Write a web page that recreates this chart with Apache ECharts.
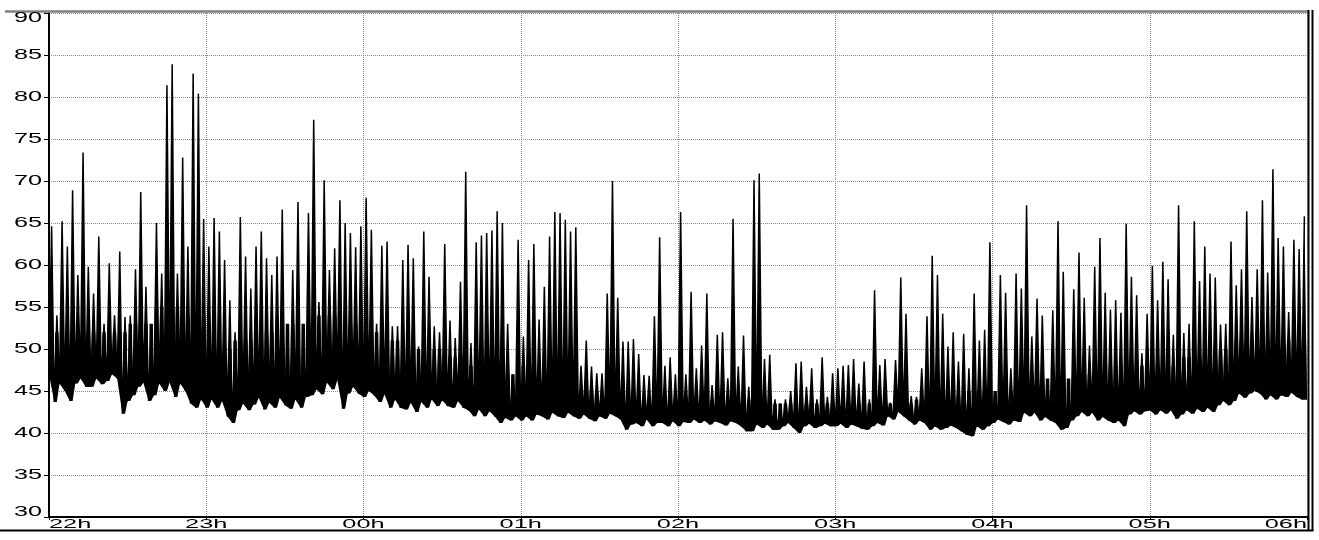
<!DOCTYPE html>
<html>
<head>
<meta charset="utf-8">
<script src="https://cdn.jsdelivr.net/npm/echarts@6/dist/echarts.min.js"></script>
<style>
html,body{margin:0;padding:0;background:#fff;}
#c{width:1319px;height:540px;}
</style>
</head>
<body>
<div id="c"></div>
<script>
// Tick labels
const xTickLabels = ['22h','23h','00h','01h','02h','03h','04h','05h','06h'];
const yTickValues = [30,35,40,45,50,55,60,65,70,75,80,85,90];

// Two-minute bins, 30 per hour: upper envelope (peaks) and lower envelope (troughs)
const hi22 = [64.6,54,65.2,62.2,68.9,58.8,73.4,59.8,56.6,63.4,53,60.2,54,61.6,53.8,54,59.5,68.7,57.4,52.7,65,59,81.4,83.9,59,72.8,62.2,82.8,80.4,65.5];
const lo22 = [47,43.7,45.9,45,43.8,45.9,46.5,45.5,45.5,46.5,45.8,46.2,47,46.5,42.3,43.8,44.5,45.5,46,43.8,44.5,45.9,45,46,44.3,45.9,45,43.5,43,44];

const hi23 = [62.2,65.6,64,60.6,55.8,52,65.7,61,57.2,62.2,64,60.8,58.8,61,66.6,52,59.4,67.5,51,66.2,77.3,55.6,70.1,59.4,62,67.7,65,63.8,62.1,64.6];
const lo23 = [43,44,43,43.8,42,41.2,42.7,43.5,42.7,43.4,44.2,42.8,43.6,43,44.2,43.3,42.9,44,43,44.3,44.5,45.2,44.6,46,45.2,46.3,42.9,44.7,45.5,44.7];

const hi00 = [68,64.2,53,62.3,62.8,52.7,52.7,60.6,62.4,60.8,50.3,64,58.6,52.7,52,62.5,53.4,51.3,58,71.1,50.7,62.7,63.5,63.8,64.1,66.4,65,53,47,63];
const lo00 = [44.3,45,44.5,43.7,44.6,43,44,43,42.8,43.6,42.5,43.7,43,44,43.2,43.9,43.2,43,43.8,43,42.7,42,42.8,42,42.6,42,41.2,41.8,41.5,42];

const hi01 = [51.5,60.6,62.5,53.5,57.4,63.4,66.3,66.2,65.4,64,64.5,48,51,47.9,47.1,47.1,56.6,70,56.1,50.9,50.9,51.2,49.4,46.9,46.8,53.9,63.3,48,49,47];
const lo01 = [41.5,42,41.5,42.2,42,41.6,42.4,42,41.8,42.4,42,41.7,42.2,41.7,41.4,42,41.7,42.3,42,41.6,40.4,41,41.2,40.8,41.6,40.8,41.2,41.2,40.8,41.4];

const hi02 = [66.3,47,56.8,47.7,50.4,56.6,45.7,51.7,52,46.5,65.5,47.9,51.6,45.5,70.1,70.9,48.8,49.3,44,43.5,44,45,48.3,48.5,45.5,47.7,44,49,44.3,47.1];
const lo02 = [40.8,41.3,41.2,41.6,41.2,41.5,41,41.4,41.2,40.9,41.4,41.2,40.8,40.2,40.2,41,40.6,41,40.4,40.4,40.8,41.2,40.6,40,40.8,41.1,40.6,40.8,41.1,40.8];

const hi03 = [47.7,48,48.1,48.8,45.9,48.5,44,57,48.1,48.8,43.6,48.7,58.5,54.2,44.4,44.3,47.7,53.9,61.1,58.8,54.2,50.3,52,48.5,51.8,47.7,56.6,51,52.3,62.7];
const lo03 = [40.8,41.1,40.6,41,40.8,40.5,40.4,40.8,41.2,40.9,42,41.6,42.5,42,41.5,41,41.5,41.2,40.4,40.8,40.4,40.6,40.9,40.6,40.2,39.8,39.6,40.8,40.4,40.8];

const hi04 = [45,58.8,56.7,47.7,59,57.2,67.1,51.5,56,54,46.3,54.6,65.2,59.2,44.7,57.1,61.5,56.1,50.4,59.8,63.2,56.7,54.7,55.8,54.3,64.9,58.6,56.4,49.5,54.2];
const lo04 = [41.2,41.6,41.3,41,41.5,41.3,42.4,42,42.4,41.5,41.9,41.5,41.2,40.4,40.6,41.5,42,42.5,42,42.4,41.5,41.9,41.5,41.2,41.5,40.8,42.2,42.6,42.2,42.6];

const hi05 = [59.9,55.8,60.4,58.3,51.7,67.1,51.9,53,65.2,58.1,62.2,59,58.5,52.9,53,62.8,57.6,59.5,66.4,56.2,59.5,67.7,59.1,71.4,63.2,62.2,54.4,63,61.9,65.8];
const lo05 = [42.7,42.2,42.7,42.3,42.7,41.7,42.2,42.7,42.3,42.9,42.5,43,42.5,43.3,43.8,43.3,43.8,44.7,44.2,44.7,45,44.7,44,44.5,44,44.5,44.3,44.8,44.3,44];

// Solid band top, one value per 10-minute segment (6 per hour)
const body22 = [52,52,52,53,55,54];
const body23 = [50,51,52,53,54,53];
const body00 = [52,51,50,49,48,47];
const body01 = [48,47,45,44.5,44,44];
const body02 = [44,44,44,43.5,43.5,43.5];
const body03 = [43.5,43.5,43.5,44,44.5,45];
const body04 = [45,45.5,46.5,47,48,48];
const body05 = [48,49,50,51,51,51];

const hiByHour = [hi22,hi23,hi00,hi01,hi02,hi03,hi04,hi05];
const loByHour = [lo22,lo23,lo00,lo01,lo02,lo03,lo04,lo05];
const bodyByHour = [body22,body23,body00,body01,body02,body03,body04,body05];

// Flatten bins (x = minutes since 22:00 at bin start)
const his = [].concat(...hiByHour);
const los = [].concat(...loByHour);
const bodies = [].concat(...bodyByHour);
const traceData = [];   // zig-zag: trough then peak per bin
const binData = [];     // [start, trough, peak, next trough, band top]
his.forEach((h, i) => {
  const m = 2 * i;
  traceData.push([m, los[i]]);
  traceData.push([m + 1, h]);
  const next = i + 1 < los.length ? los[i + 1] : los[i];
  binData.push([m, los[i], h, next, bodies[Math.floor(i / 5)]]);
});

const chart = echarts.init(document.getElementById('c'), null, {renderer: 'canvas'});
const gridColor = '#8a8a8a';
const option = {
  animation: false,
  backgroundColor: '#fff',
  grid: {left: 49, right: 12, top: 13, bottom: 23, containLabel: false},
  xAxis: {
    type: 'value', min: 0, max: 480, interval: 60,
    axisLine: {show: true, onZero: false, lineStyle: {color: '#000', width: 2}},
    axisTick: {show: true, length: 3, lineStyle: {color: '#000', width: 1}},
    axisLabel: {show: false},
    splitLine: {show: true, lineStyle: {color: gridColor, type: 'dotted', width: 1}}
  },
  yAxis: {
    type: 'value', min: 30, max: 90, interval: 5,
    axisLine: {show: true, lineStyle: {color: '#000', width: 2}},
    axisTick: {show: true, length: 5, lineStyle: {color: '#000', width: 1}},
    axisLabel: {show: false},
    splitLine: {show: true, lineStyle: {color: gridColor, type: 'dotted', width: 1}}
  },
  series: [
    {
      type: 'custom', data: binData, silent: true, clip: true, z: 3,
      encode: {x: 0, y: [1, 2, 3, 4]},
      renderItem: function (params, api) {
        const m = api.value(0), lo = api.value(1), hi = api.value(2), lo2 = api.value(3), body = api.value(4);
        const children = [{
          type: 'polygon',
          shape: {points: [api.coord([m, lo]), api.coord([m + 1, hi]), api.coord([m + 2, lo2]), api.coord([m + 1, lo])]},
          style: {fill: '#000'}
        }];
        if (body > Math.min(lo, lo2)) {
          children.push({
            type: 'polygon',
            shape: {points: [
              api.coord([m, lo]), api.coord([m + 0.35, Math.max(body, lo)]),
              api.coord([m + 1.65, Math.max(body, lo2)]), api.coord([m + 2, lo2])
            ]},
            style: {fill: '#000'}
          });
        }
        return {type: 'group', children: children};
      }
    },
    {
      type: 'line', data: traceData, symbol: 'none', silent: true, z: 4,
      lineStyle: {color: '#000', width: 1.5}
    }
  ]
};
chart.setOption(option);

// Axis labels drawn as horizontally stretched text at the axis tick positions
const gx = v => chart.convertToPixel({xAxisIndex: 0}, v);
const gy = v => chart.convertToPixel({yAxisIndex: 0}, v);
const xLeft = gx(0), xRight = gx(480), yBottom = gy(30), yTop = gy(90);
const els = [];
xTickLabels.forEach((t, i) => {
  const a = i === 0 ? 'left' : (i === xTickLabels.length - 1 ? 'right' : 'center');
  els.push({
    type: 'text', x: gx(i * 60), y: yBottom + 1, scaleX: 1.95, silent: true, z: 100,
    style: {text: t, font: '13px "Liberation Sans", Arial, sans-serif', fill: '#000',
            align: a, verticalAlign: 'top', textAlign: a, textVerticalAlign: 'top'}
  });
});
yTickValues.forEach(v => {
  const va = v === 90 ? 'top' : (v === 30 ? 'bottom' : 'middle');
  els.push({
    type: 'text', x: xLeft - 7, y: gy(v) + (v === 90 ? -2 : (v === 30 ? 2 : 0)), scaleX: 1.8, silent: true, z: 100,
    style: {text: String(v), font: '14px "Liberation Sans", Arial, sans-serif', fill: '#000',
            align: 'right', verticalAlign: va, textAlign: 'right', textVerticalAlign: va}
  });
});
// frame
els.push({type: 'line', silent: true, z: 90, shape: {x1: 5, y1: yTop - 1.5, x2: xRight + 1, y2: yTop - 1.5}, style: {stroke: '#808080', lineWidth: 2.5}});
els.push({type: 'line', silent: true, z: 90, shape: {x1: xRight + 1.5, y1: yTop - 3, x2: xRight + 1.5, y2: yBottom + 14}, style: {stroke: '#000', lineWidth: 2}});
els.push({type: 'line', silent: true, z: 90, shape: {x1: xRight + 5.5, y1: yTop - 3, x2: xRight + 5.5, y2: yBottom + 14}, style: {stroke: '#000', lineWidth: 2}});
els.push({type: 'line', silent: true, z: 90, shape: {x1: 0, y1: yBottom + 13.5, x2: xRight + 6.5, y2: yBottom + 13.5}, style: {stroke: '#000', lineWidth: 2}});
chart.setOption({graphic: {elements: els}});
</script>
</body>
</html>
